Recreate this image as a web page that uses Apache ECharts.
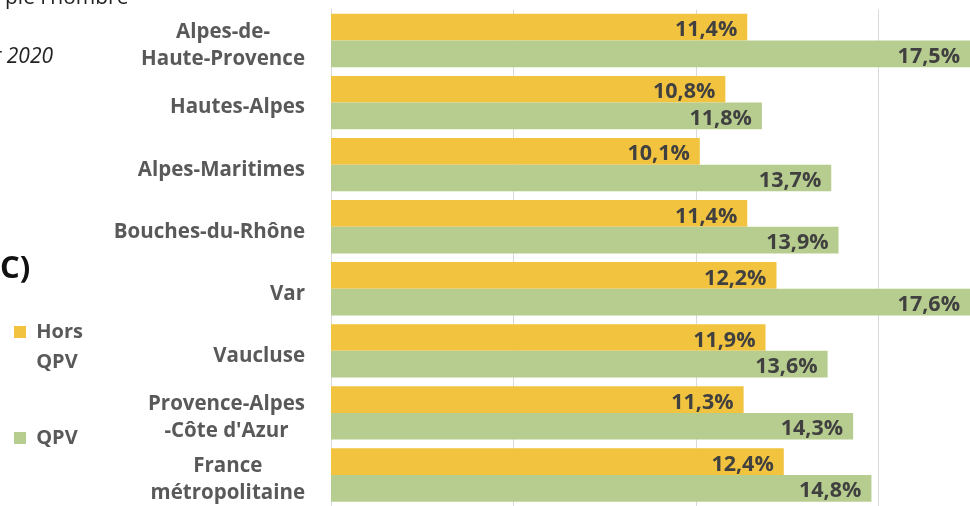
<!DOCTYPE html>
<html>
<head>
<meta charset="utf-8">
<script src="https://cdn.jsdelivr.net/npm/echarts@6/dist/echarts.min.js"></script>
<style>
  html, body { margin: 0; padding: 0; background: #fff; }
  #chart { width: 970px; height: 506px; }
</style>
</head>
<body>
<div id="chart"></div>
<script>
// categories, top to bottom
const territoires = [
  'Alpes-de-\nHaute-Provence',
  'Hautes-Alpes',
  'Alpes-Maritimes',
  'Bouches-du-Rhône',
  'Var',
  'Vaucluse',
  'Provence-Alpes\n-Côte d\'Azur',
  'France\nmétropolitaine'
];
const horsQpv = [11.4, 10.8, 10.1, 11.4, 12.2, 11.9, 11.3, 12.4];
const qpv = [17.5, 11.8, 13.7, 13.9, 17.6, 13.6, 14.3, 14.8];
const seriesNames = ['Hors QPV', 'QPV'];

const fontFamily = '"Open Sans", Lato, sans-serif';

function pct(p) {
  return p.value.toFixed(1).replace('.', ',') + '%';
}

function barLabel() {
  return {
    show: true,
    position: 'insideRight',
    distance: 10,
    offset: [0, 3],
    formatter: pct,
    color: '#404040',
    fontFamily: fontFamily,
    fontWeight: 'bold',
    fontSize: 21.5
  };
}

const chart = echarts.init(document.getElementById('chart'));
chart.setOption({
  animation: false,
  title: [{
    text: 'ple l\'nombre',
    left: 0,
    top: -17,
    textStyle: { fontFamily: fontFamily, fontWeight: 'normal', fontSize: 21, color: '#222' }
  }, {
    text: 'r 2020',
    left: -12,
    top: 42,
    textStyle: { fontFamily: fontFamily, fontStyle: 'italic', fontWeight: 'normal', fontSize: 21, color: '#222' }
  }, {
    text: 'C)',
    left: -5,
    top: 249,
    textStyle: { fontFamily: fontFamily, fontWeight: 'bold', fontSize: 31, color: '#111' }
  }],
  legend: [{
    data: [seriesNames[0]],
    left: 14,
    top: 287,
    padding: 0,
    icon: 'rect',
    itemWidth: 12,
    itemHeight: 12,
    // leading blank line keeps the first text line level with the swatch
    formatter: function (name) { return '\n ' + name.replace(' ', '\n '); },
    textStyle: { fontFamily: fontFamily, fontWeight: 'bold', fontSize: 20, color: '#595959', lineHeight: 30 }
  }, {
    data: [seriesNames[1]],
    left: 14,
    top: 428,
    padding: 0,
    icon: 'rect',
    itemWidth: 12,
    itemHeight: 12,
    formatter: function (name) { return ' ' + name; },
    textStyle: { fontFamily: fontFamily, fontWeight: 'bold', fontSize: 20, color: '#595959' }
  }],
  grid: { left: 331, right: 0, top: 9.5, bottom: -7.5 },
  xAxis: {
    type: 'value',
    min: 0,
    max: 17.5,
    interval: 5,
    axisLabel: { show: false },
    axisLine: { show: false },
    axisTick: { show: false },
    splitLine: { showMaxLine: false, lineStyle: { color: '#d9d9d9', width: 1 } }
  },
  yAxis: {
    type: 'category',
    inverse: true,
    data: territoires,
    axisTick: { show: false },
    axisLine: { lineStyle: { color: '#d9d9d9' } },
    axisLabel: {
      margin: 26,
      padding: [10, 0, 0, 0],
      formatter: function (v) {
        return v.split('\n').map(function (s) { return '{c|' + s + '}'; }).join('\n');
      },
      rich: {
        c: {
          align: 'center',
          fontFamily: fontFamily,
          fontWeight: 'bold',
          fontSize: 20.5,
          lineHeight: 27,
          color: '#595959'
        }
      }
    }
  },
  series: [{
    name: seriesNames[0],
    type: 'bar',
    data: horsQpv,
    barGap: '0%',
    barCategoryGap: '14%',
    itemStyle: { color: '#F1C33F' },
    label: barLabel()
  }, {
    name: seriesNames[1],
    type: 'bar',
    data: qpv,
    barGap: '0%',
    barCategoryGap: '14%',
    itemStyle: { color: '#B7CD8F' },
    label: barLabel()
  }]
});
</script>
</body>
</html>
